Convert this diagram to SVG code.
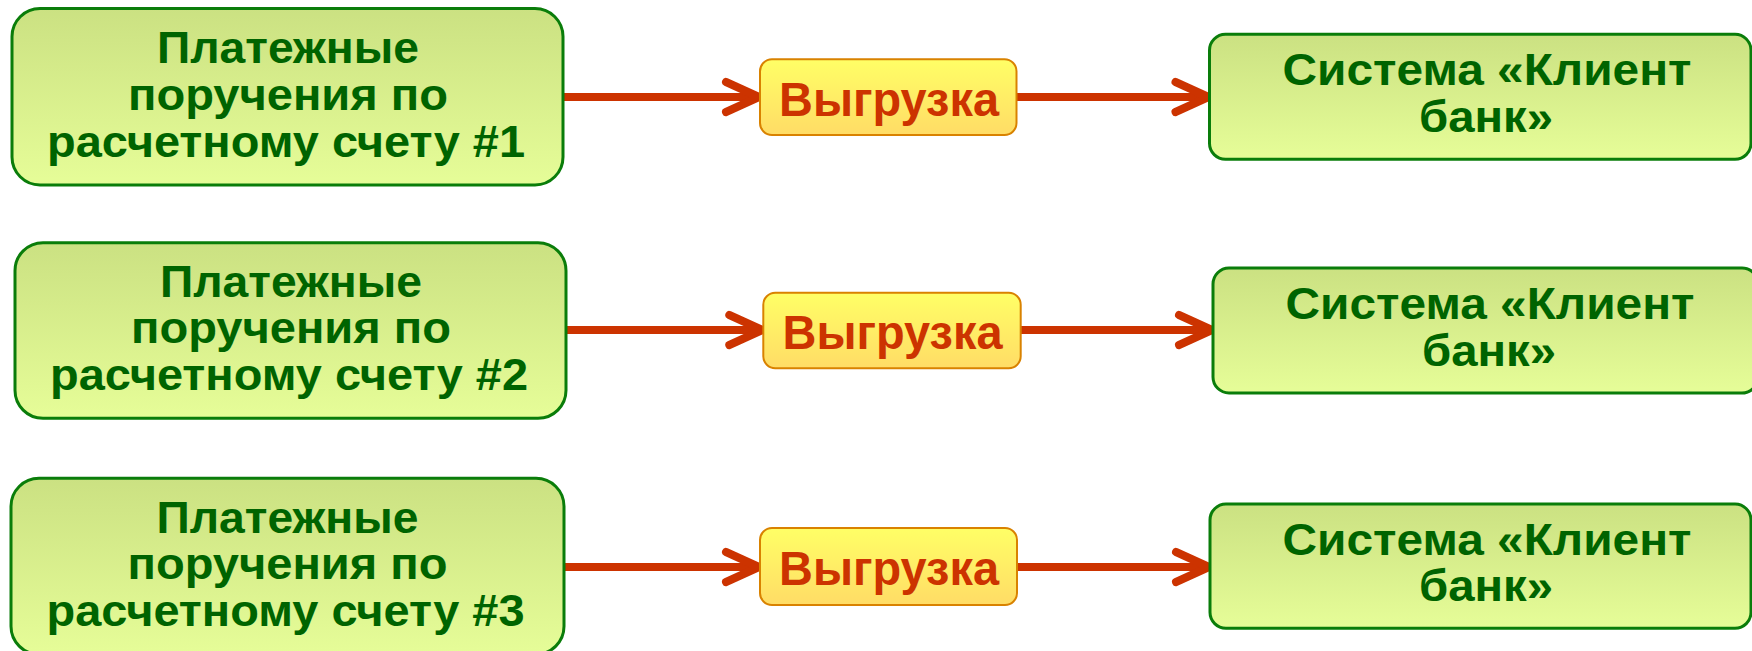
<svg xmlns="http://www.w3.org/2000/svg" width="1752" height="651" viewBox="0 0 1752 651">
<defs>
<linearGradient id="gGreen" x1="0" y1="0" x2="0" y2="1">
<stop offset="0" stop-color="#cbe182"/>
<stop offset="1" stop-color="#e6fd98"/>
</linearGradient>
<linearGradient id="gYellow" x1="0" y1="0" x2="0" y2="1">
<stop offset="0" stop-color="#ffff66"/>
<stop offset="1" stop-color="#ffdc66"/>
</linearGradient>
<marker id="chev" markerUnits="userSpaceOnUse" markerWidth="60" markerHeight="60" viewBox="-40 -30 60 60" refX="0" refY="0" orient="auto" overflow="visible">
<path d="M-34,-15 L-1,0 L-34,15" fill="none" stroke="#cc3300" stroke-width="8" stroke-linecap="round" stroke-linejoin="round"/>
</marker>
<style>
.src rect, .dst rect { fill: url(#gGreen); stroke: #0a7d0a; stroke-width: 3; }
.mid rect { fill: url(#gYellow); stroke: #d98200; stroke-width: 2; }
.gt { font-family: "Liberation Sans", Arial, sans-serif; font-weight: bold; font-size: 45px; fill: #006400; text-anchor: middle; }
.yt { font-family: "Liberation Sans", Arial, sans-serif; font-weight: bold; font-size: 48px; fill: #cc3300; text-anchor: middle; }
.conn line { stroke: #cc3300; stroke-width: 8; marker-end: url(#chev); }
</style>
</defs>
<rect width="1752" height="651" fill="#ffffff"/>

<g id="connectors" class="conn">
<line x1="563" y1="97" x2="760" y2="97"/>
<line x1="1016.5" y1="97" x2="1209.5" y2="97"/>
<line x1="566" y1="330" x2="763.3" y2="330"/>
<line x1="1020.7" y1="330" x2="1213" y2="330"/>
<line x1="564" y1="567" x2="760" y2="567"/>
<line x1="1017" y1="567" x2="1210" y2="567"/>
</g>

<g id="src1" class="src">
<rect x="12" y="8.5" width="551" height="176.5" rx="28"/>
<text class="gt" x="288" y="63.3" textLength="262" lengthAdjust="spacingAndGlyphs">Платежные</text>
<text class="gt" x="288" y="110" textLength="320" lengthAdjust="spacingAndGlyphs">поручения по</text>
<text class="gt" x="286" y="156.7" textLength="478" lengthAdjust="spacingAndGlyphs">расчетному счету #1</text>
</g>
<g id="mid1" class="mid">
<rect x="760" y="59.3" width="256.5" height="75.7" rx="12"/>
<text class="yt" x="889" y="116" textLength="220" lengthAdjust="spacingAndGlyphs">Выгрузка</text>
</g>
<g id="dst1" class="dst">
<rect x="1209.5" y="34.3" width="541.5" height="125" rx="16"/>
<text class="gt" x="1487" y="85" textLength="409" lengthAdjust="spacingAndGlyphs">Система «Клиент</text>
<text class="gt" x="1486" y="131.7" textLength="134" lengthAdjust="spacingAndGlyphs">банк»</text>
</g>

<g id="src2" class="src">
<rect x="15" y="242.7" width="551" height="175.6" rx="28"/>
<text class="gt" x="291" y="296.7" textLength="262" lengthAdjust="spacingAndGlyphs">Платежные</text>
<text class="gt" x="291" y="343.3" textLength="320" lengthAdjust="spacingAndGlyphs">поручения по</text>
<text class="gt" x="289" y="390" textLength="478" lengthAdjust="spacingAndGlyphs">расчетному счету #2</text>
</g>
<g id="mid2" class="mid">
<rect x="763.3" y="292.7" width="257.4" height="75.6" rx="12"/>
<text class="yt" x="892.5" y="349.3" textLength="220" lengthAdjust="spacingAndGlyphs">Выгрузка</text>
</g>
<g id="dst2" class="dst">
<rect x="1213" y="268" width="545" height="125" rx="16"/>
<text class="gt" x="1490" y="319" textLength="409" lengthAdjust="spacingAndGlyphs">Система «Клиент</text>
<text class="gt" x="1489" y="365.7" textLength="134" lengthAdjust="spacingAndGlyphs">банк»</text>
</g>

<g id="src3" class="src">
<rect x="11" y="478.3" width="553" height="176" rx="28"/>
<text class="gt" x="287.5" y="532.7" textLength="262" lengthAdjust="spacingAndGlyphs">Платежные</text>
<text class="gt" x="287.5" y="579.4" textLength="320" lengthAdjust="spacingAndGlyphs">поручения по</text>
<text class="gt" x="285.5" y="626" textLength="478" lengthAdjust="spacingAndGlyphs">расчетному счету #3</text>
</g>
<g id="mid3" class="mid">
<rect x="760" y="528" width="257" height="77" rx="12"/>
<text class="yt" x="889" y="585" textLength="220" lengthAdjust="spacingAndGlyphs">Выгрузка</text>
</g>
<g id="dst3" class="dst">
<rect x="1210" y="504" width="541" height="124.3" rx="16"/>
<text class="gt" x="1487" y="554.5" textLength="409" lengthAdjust="spacingAndGlyphs">Система «Клиент</text>
<text class="gt" x="1486" y="601" textLength="134" lengthAdjust="spacingAndGlyphs">банк»</text>
</g>
</svg>
